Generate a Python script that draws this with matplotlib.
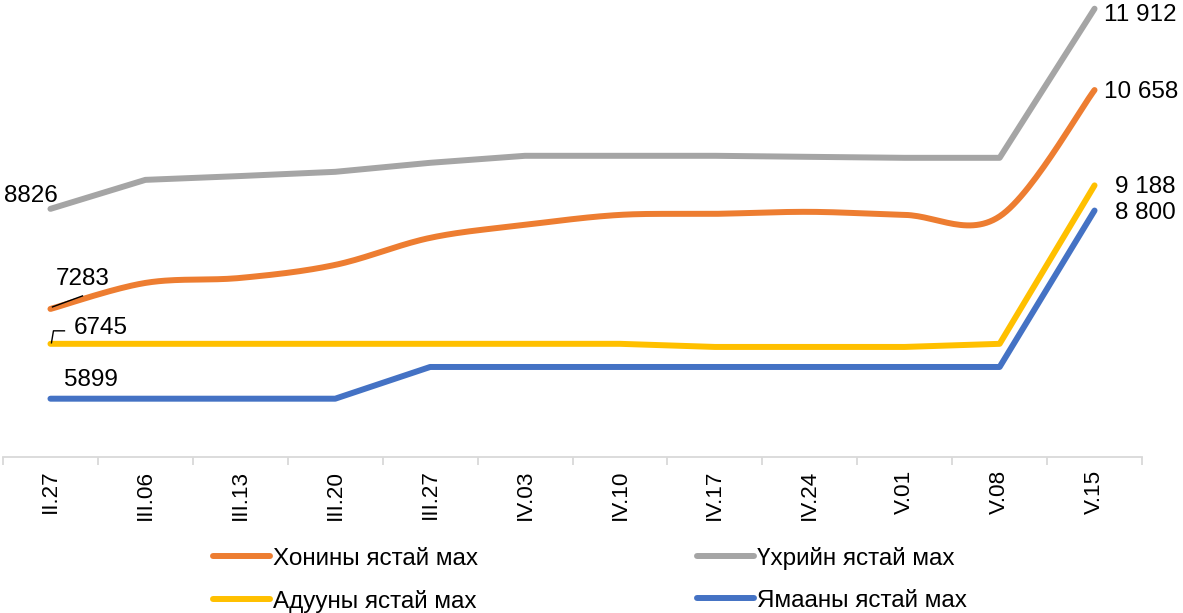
import numpy as np
import matplotlib
matplotlib.use("Agg")
import matplotlib.pyplot as plt
import matplotlib.transforms as mtransforms
from matplotlib.lines import Line2D

plt.rcParams['font.family'] = ['Liberation Sans', 'DejaVu Sans']

categories = ["II.27", "III.06", "III.13", "III.20", "III.27", "IV.03",
              "IV.10", "IV.17", "IV.24", "V.01", "V.08", "V.15"]
sheep = [7283, 7684, 7761, 7962, 8379, 8579, 8733, 8749, 8780, 8733, 8710, 10658]
beef = [8826, 9273, 9332, 9397, 9536, 9644, 9644, 9644, 9628, 9613, 9613, 11912]
horse = [6745, 6745, 6745, 6745, 6745, 6745, 6745, 6697, 6697, 6697, 6745, 9188]
goat = [5899, 5899, 5899, 5899, 6388, 6388, 6388, 6388, 6388, 6388, 6388, 8800]
names = ["Хонины ястай мах", "Үхрийн ястай мах", "Адууны ястай мах", "Ямааны ястай мах"]
colors = ["#ED7D31", "#A5A5A5", "#FFC000", "#4472C4"]


def smooth(xs, ys, n=30):
    # Excel-like smoothed line (Catmull-Rom cubic Bezier)
    xs = np.asarray(xs, float)
    ys = np.asarray(ys, float)
    P = np.column_stack([xs, ys])
    out = []
    for i in range(len(P) - 1):
        p0 = P[i - 1] if i > 0 else P[i]
        p1 = P[i]
        p2 = P[i + 1]
        p3 = P[i + 2] if i + 2 < len(P) else P[i + 1]
        c1 = p1 + (p2 - p0) / 6.0
        c2 = p2 - (p3 - p1) / 6.0
        t = np.linspace(0, 1, n)[:, None]
        seg = ((1 - t) ** 3) * p1 + 3 * ((1 - t) ** 2) * t * c1 + 3 * (1 - t) * t ** 2 * c2 + t ** 3 * p2
        out.append(seg if i == 0 else seg[1:])
    out = np.vstack(out)
    return out[:, 0], out[:, 1]


W, H = 1183, 613
fig = plt.figure(figsize=(W / 100, H / 100), dpi=100)
ax = fig.add_axes([3 / W, (H - 457) / H, 1139 / W, 454 / H])

x = np.arange(len(categories))
lw = 4.3
fs = 17.5
sx, sy = smooth(x, sheep)
ax.plot(sx, sy, color=colors[0], lw=lw, solid_capstyle='round', label=names[0], zorder=3)
ax.plot(x, beef, color=colors[1], lw=lw, solid_capstyle='round', label=names[1], zorder=3)
ax.plot(x, horse, color=colors[2], lw=lw, solid_capstyle='round', label=names[2], zorder=3)
ax.plot(x, goat, color=colors[3], lw=lw, solid_capstyle='round', label=names[3], zorder=3)

ax.set_xlim(-0.5, len(categories) - 0.5)
ax.set_ylim(5000, 12000)
for s in ['top', 'right', 'left']:
    ax.spines[s].set_visible(False)
ax.spines['bottom'].set_color('#D9D9D9')
ax.spines['bottom'].set_linewidth(1.3)
ax.set_yticks([])
ax.set_xticks(x)
ax.set_xticklabels(categories, rotation=90, fontsize=16.2)
ax.tick_params(axis='x', which='major', length=0, pad=9)
ax.set_xticks(np.arange(-0.5, len(categories), 1.0), minor=True)
ax.tick_params(axis='x', which='minor', length=6, width=1.3, color='#D9D9D9')


def lab(xi, yv, text, dx, dy, ha='center'):
    ax.annotate(text, xy=(xi, yv), xytext=(dx, dy), textcoords='offset pixels',
                ha=ha, va='center', fontsize=fs, zorder=5)

lab(0, beef[0], "8826", -20, 13)
lab(0, sheep[0], "7283", 32, 30)
lab(0, horse[0], "6745", 50, 16)
lab(0, goat[0], "5899", 40, 19)
lab(11, beef[-1], "11 912", 9, -6, ha='left')
lab(11, sheep[-1], "10 658", 9, -2, ha='left')
lab(11, horse[-1], "9 188", 20, -2, ha='left')
lab(11, goat[-1], "8 800", 20, -2, ha='left')


# leader lines (pixel offsets from data point)
def leader(xi, yv, pts):
    px, py = ax.transData.transform((xi, yv))
    tr = mtransforms.Affine2D().translate(px, py)
    xs = [p[0] for p in pts]
    ys = [p[1] for p in pts]
    fig.add_artist(Line2D(xs, ys, transform=tr, color='black', lw=1.0, zorder=6))

leader(0, sheep[0], [(2, 2), (32, 13)])
leader(0, horse[0], [(1, 1), (3, 13), (14, 13)])

order = [0, 2, 1, 3]
handles = [Line2D([0], [0], color=colors[i], lw=lw, solid_capstyle='round') for i in order]
fig.legend(handles, [names[i] for i in order], loc='upper left',
           bbox_to_anchor=(213 / W, 1 - 547 / H),
           ncol=2, frameon=False, fontsize=fs, handlelength=2.35, handletextpad=0.12,
           columnspacing=9.0, labelspacing=0.82, borderaxespad=0, borderpad=0)

fig.savefig("out.png", dpi=100)
